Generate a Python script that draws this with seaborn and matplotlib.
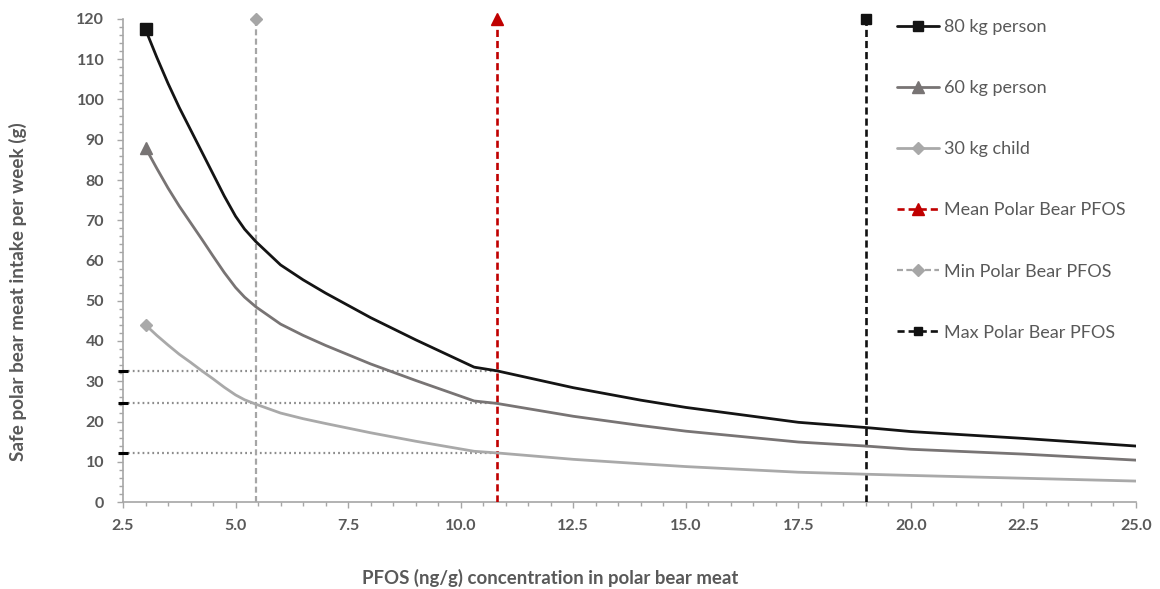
import numpy as np
import pandas as pd
import matplotlib
matplotlib.use("Agg")
import matplotlib.pyplot as plt
import seaborn as sns
from matplotlib.ticker import MultipleLocator, FormatStrFormatter
from matplotlib.lines import Line2D

# ---- data ----
pfos = [3.0, 3.25, 3.5, 3.75, 4.0, 4.25, 4.5, 4.75, 5.0, 5.2, 5.45, 6.0, 6.5, 7.0, 8.0,
        9.0, 10.3, 10.8, 12.5, 14.0, 15.0, 17.5, 19.0, 20.0, 22.5, 25.0]
intake_80kg = [117.4, 110.5, 104.0, 98.0, 92.5, 87.0, 81.5, 76.0, 71.0, 67.8, 64.7, 58.9,
               55.2, 51.9, 45.8, 40.3, 33.5, 32.6, 28.4, 25.3, 23.5, 19.8, 18.5, 17.5,
               15.8, 13.9]
intake_60kg = [88.0, 82.9, 78.0, 73.5, 69.4, 65.3, 61.1, 57.0, 53.3, 50.9, 48.5, 44.2,
               41.4, 38.9, 34.3, 30.2, 25.1, 24.5, 21.3, 19.0, 17.6, 14.9, 13.9, 13.1,
               11.9, 10.4]
intake_30kg = [44.0, 41.4, 39.0, 36.7, 34.7, 32.6, 30.6, 28.5, 26.6, 25.4, 24.3, 22.1,
               20.7, 19.5, 17.2, 15.1, 12.6, 12.2, 10.6, 9.5, 8.8, 7.4, 6.9, 6.6, 5.9, 5.2]
series_labels = ["80 kg person", "60 kg person", "30 kg child"]

min_pfos = 5.45
mean_pfos = 10.8
max_pfos = 19.0
vline_range = [0, 120]
mean_levels = [32.6, 24.5, 12.2]   # intake at mean PFOS for each group

x_label = "PFOS (ng/g) concentration in polar bear meat"
y_label = "Safe polar bear meat intake per week (g)"

# ---- style ----
sns.set_style("white")
plt.rcParams["font.family"] = ["Lato", "DejaVu Sans"]
TXT = "#595959"
AX = "#a6a6a6"

W, H = 1160, 589
fig = plt.figure(figsize=(W / 100, H / 100), dpi=100)
L, R, T, B = 123, 1136, 19, 502
ax = fig.add_axes([L / W, (H - B) / H, (R - L) / W, (B - T) / H])

# reference dotted lines at mean PFOS
for lv in mean_levels:
    sns.lineplot(x=[2.5, mean_pfos], y=[lv, lv], ax=ax, color="#8c8c8c",
                 linestyle=(0, (0.8, 1.4)), linewidth=1.6, zorder=2,
                 estimator=None, sort=False)
    ax.plot([2.39, 2.61], [lv, lv], color="black", linewidth=2.2,
            clip_on=False, zorder=6, solid_capstyle="butt")

handles = []
# curves
df = pd.DataFrame({"pfos": pfos * 3,
                   "intake": intake_80kg + intake_60kg + intake_30kg,
                   "group": sum([[g] * len(pfos) for g in series_labels], [])})
styles = {"80 kg person": ("#141414", "s", 8),
          "60 kg person": ("#787474", "^", 9),
          "30 kg child": ("#a9a9a9", "D", 6.5)}
for g in series_labels:
    c, m, ms = styles[g]
    sub = df[df["group"] == g]
    sns.lineplot(data=sub, x="pfos", y="intake", ax=ax, color=c, linewidth=2.0,
                 zorder=4, estimator=None)
    first = sub.iloc[[0]]
    ax.plot(first["pfos"], first["intake"], linestyle="none", marker=m,
            markersize=ms, color=c, zorder=5, clip_on=False)
    handles.append(Line2D([], [], color=c, linewidth=2.0, marker=m,
                          markersize=ms * 0.9, label=g))

# vertical PFOS lines
vl = [("Mean Polar Bear PFOS", mean_pfos, "#c00000", "^", 9, 1.9),
      ("Min Polar Bear PFOS", min_pfos, "#a6a6a6", "D", 6.5, 1.6),
      ("Max Polar Bear PFOS", max_pfos, "#111111", "s", 7, 1.9)]
dash = (0, (2.7, 1.5))
for lab, xv, c, m, ms, lw in vl:
    sns.lineplot(x=[xv, xv], y=vline_range, ax=ax, color=c, linewidth=lw,
                 linestyle=dash, zorder=3, estimator=None, sort=False)
    ax.plot([xv], [vline_range[1]], linestyle="none", marker=m, markersize=ms,
            color=c, zorder=5, clip_on=False)
    handles.append(Line2D([], [], color=c, linewidth=lw, linestyle=dash,
                          marker=m, markersize=ms * 0.9, label=lab))

# axes
ax.set_xlim(2.5, 25)
ax.set_ylim(0, 120)
ax.xaxis.set_major_locator(MultipleLocator(2.5))
ax.xaxis.set_minor_locator(MultipleLocator(0.5))
ax.yaxis.set_major_locator(MultipleLocator(10))
ax.yaxis.set_minor_locator(MultipleLocator(2))
ax.xaxis.set_major_formatter(FormatStrFormatter("%.1f"))
for s in ["top", "right"]:
    ax.spines[s].set_visible(False)
for s in ["left", "bottom"]:
    ax.spines[s].set_color(AX)
    ax.spines[s].set_linewidth(1.2)
ax.tick_params(axis="both", which="both", direction="out", color=AX, width=1.0,
               bottom=True, left=True)
ax.tick_params(axis="both", which="major", length=4.5, labelsize=11.5, labelcolor=TXT)
ax.tick_params(axis="both", which="minor", length=3)
ax.tick_params(axis="x", which="major", pad=8)
ax.tick_params(axis="y", which="major", pad=9)
for t in ax.get_xticklabels() + ax.get_yticklabels():
    t.set_fontweight("bold")
ax.set_xlabel("")
ax.set_ylabel("")
ax.grid(False)

fig.text(550 / W, 1 - 578 / H, x_label, ha="center", va="center",
         fontsize=13.4, fontweight="bold", color=TXT)
fig.text(18 / W, 1 - 292 / H, y_label, ha="center", va="center", rotation=90,
         fontsize=13.6, fontweight="bold", color=TXT)

leg = ax.legend(handles=handles, loc="upper left", bbox_to_anchor=(897 / W, 1 - 19 / H),
                bbox_transform=fig.transFigure, frameon=False, fontsize=13,
                labelspacing=2.5, handlelength=2.33, handletextpad=0.28,
                borderpad=0, borderaxespad=0)
for t in leg.get_texts():
    t.set_color(TXT)

fig.savefig("out.png", dpi=100)
